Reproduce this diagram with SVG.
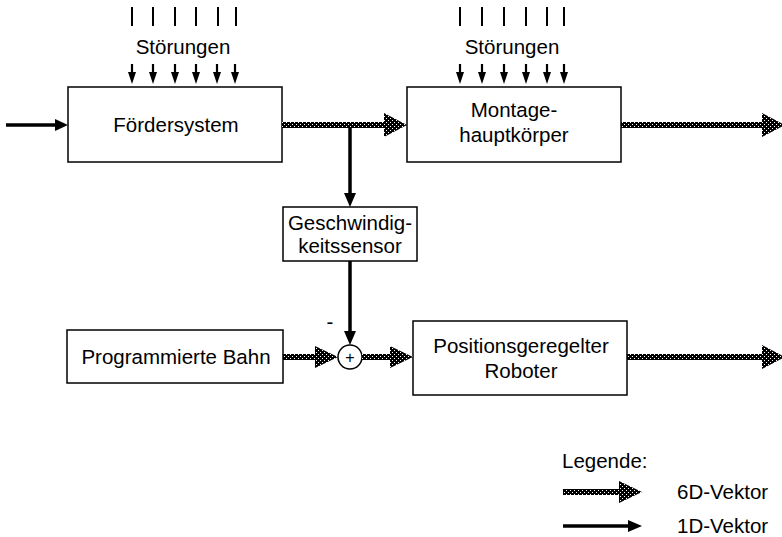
<svg xmlns="http://www.w3.org/2000/svg" width="782" height="537" viewBox="0 0 782 537">
  <style>
    .box { fill: #ffffff; stroke: #000000; stroke-width: 1.5; }
    .lbl { font-family: "Liberation Sans", Arial, sans-serif; font-size: 20.5px; fill: #000000; }
    .mid { text-anchor: middle; }
    .wire { stroke: #000000; stroke-width: 3.5; fill: none; }
    .tick { stroke: #000000; stroke-width: 2; fill: none; }
    .thin { stroke: #000000; stroke-width: 2.2; fill: none; }
    .head { fill: #000000; }
    .vec6 { fill: url(#dots); }
  </style>
  <defs>
    <!-- halftone fill used for the 6D vector arrows -->
    <pattern id="dots" patternUnits="userSpaceOnUse" width="4" height="4">
      <rect width="4" height="4" fill="#000000"/>
      <rect x="0" y="0" width="1" height="1" fill="#ffffff"/>
      <rect x="2" y="2" width="1" height="1" fill="#ffffff"/>
    </pattern>
  </defs>
  <rect width="782" height="537" fill="#ffffff"/>

  <!-- disturbance inputs above the conveyor -->
  <g id="stoerungen-1">
    <g class="tick">
      <line x1="132" y1="7" x2="132" y2="26"/>
      <line x1="153" y1="7" x2="153" y2="26"/>
      <line x1="175" y1="7" x2="175" y2="26"/>
      <line x1="196" y1="7" x2="196" y2="26"/>
      <line x1="218" y1="7" x2="218" y2="26"/>
      <line x1="236" y1="7" x2="236" y2="26"/>
    </g>
    <text class="lbl mid" x="183" y="54">Störungen</text>
    <g class="thin">
      <line x1="132" y1="64" x2="132" y2="74"/>
      <line x1="153" y1="64" x2="153" y2="74"/>
      <line x1="175" y1="64" x2="175" y2="74"/>
      <line x1="196" y1="64" x2="196" y2="74"/>
      <line x1="217" y1="64" x2="217" y2="74"/>
      <line x1="235" y1="64" x2="235" y2="74"/>
    </g>
    <g class="head">
      <polygon points="128,72 136,72 132,84"/>
      <polygon points="149,72 157,72 153,84"/>
      <polygon points="171,72 179,72 175,84"/>
      <polygon points="192,72 200,72 196,84"/>
      <polygon points="213,72 221,72 217,84"/>
      <polygon points="231,72 239,72 235,84"/>
    </g>
  </g>

  <!-- disturbance inputs above the assembly body -->
  <g id="stoerungen-2">
    <g class="tick">
      <line x1="460" y1="7" x2="460" y2="26"/>
      <line x1="482" y1="7" x2="482" y2="26"/>
      <line x1="504" y1="7" x2="504" y2="26"/>
      <line x1="526" y1="7" x2="526" y2="26"/>
      <line x1="547" y1="7" x2="547" y2="26"/>
      <line x1="564" y1="7" x2="564" y2="26"/>
    </g>
    <text class="lbl mid" x="512" y="54">Störungen</text>
    <g class="thin">
      <line x1="460" y1="64" x2="460" y2="74"/>
      <line x1="482" y1="64" x2="482" y2="74"/>
      <line x1="504" y1="64" x2="504" y2="74"/>
      <line x1="526" y1="64" x2="526" y2="74"/>
      <line x1="547" y1="64" x2="547" y2="74"/>
      <line x1="564" y1="64" x2="564" y2="74"/>
    </g>
    <g class="head">
      <polygon points="456,72 464,72 460,84"/>
      <polygon points="478,72 486,72 482,84"/>
      <polygon points="500,72 508,72 504,84"/>
      <polygon points="522,72 530,72 526,84"/>
      <polygon points="543,72 551,72 547,84"/>
      <polygon points="560,72 568,72 564,84"/>
    </g>
  </g>

  <g id="foerdersystem">
    <rect class="box" x="68" y="87" width="214" height="75"/>
    <text class="lbl mid" x="176" y="132">Fördersystem</text>
  </g>

  <g id="montagehauptkoerper">
    <rect class="box" x="407" y="87" width="214" height="75"/>
    <text class="lbl mid" x="514" y="117">Montage-</text>
    <text class="lbl mid" x="514" y="142">hauptkörper</text>
  </g>

  <g id="geschwindigkeitssensor">
    <rect class="box" x="283" y="207" width="134" height="54"/>
    <text class="lbl mid" x="350" y="230">Geschwindig-</text>
    <text class="lbl mid" x="350" y="253">keitssensor</text>
  </g>

  <g id="programmierte-bahn">
    <rect class="box" x="67" y="330" width="216" height="53"/>
    <text class="lbl mid" x="176" y="364">Programmierte Bahn</text>
  </g>

  <g id="summierer">
    <circle cx="350" cy="357" r="12" fill="#ffffff" stroke="#000000" stroke-width="1.5"/>
    <text class="lbl mid" x="350" y="363" style="font-size:16px">+</text>
    <text class="lbl mid" x="330" y="329">-</text>
  </g>

  <g id="roboter">
    <rect class="box" x="413" y="321" width="214" height="74"/>
    <text class="lbl mid" x="521" y="353">Positionsgeregelter</text>
    <text class="lbl mid" x="521" y="378">Roboter</text>
  </g>

  <!-- signal flow -->
  <g id="connectors">
    <!-- 1D signals -->
    <line class="wire" x1="6" y1="125" x2="56" y2="125"/>
    <polygon class="head" points="55,119 68,125 55,131"/>
    <line class="wire" x1="350" y1="127" x2="350" y2="195"/>
    <polygon class="head" points="344,193 350,207 356,193"/>
    <line class="wire" x1="350" y1="261" x2="350" y2="333"/>
    <polygon class="head" points="344,331 350,345 356,331"/>
    <!-- 6D signals -->
    <polygon class="vec6" points="282,122 384,122 384,113 407,125 384,137 384,128 282,128"/>
    <polygon class="vec6" points="621,122 762,122 762,113 785,125 762,137 762,128 621,128"/>
    <polygon class="vec6" points="283,354 315,354 315,346 338,357 315,368 315,360 283,360"/>
    <polygon class="vec6" points="362,354 390,354 390,346 413,357 390,368 390,360 362,360"/>
    <polygon class="vec6" points="627,354 762,354 762,345 785,357 762,369 762,360 627,360"/>
  </g>

  <g id="legende">
    <text class="lbl" x="562" y="468">Legende:</text>
    <polygon class="vec6" points="563,489 619,489 619,481 642,492 619,503 619,495 563,495"/>
    <text class="lbl" x="677" y="499">6D-Vektor</text>
    <line class="wire" x1="563" y1="526" x2="630" y2="526"/>
    <polygon class="head" points="628,520 642,526 628,532"/>
    <text class="lbl" x="677" y="533">1D-Vektor</text>
  </g>
</svg>
